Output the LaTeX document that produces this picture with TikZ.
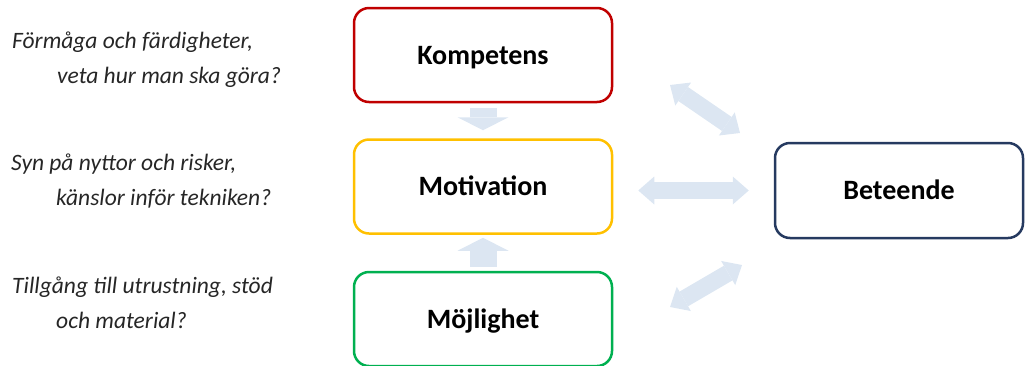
\documentclass[tikz,border=0pt]{standalone}
\usepackage{fontspec}
\setmainfont{Carlito}
\usepackage{xcolor}
\usepackage{tikz}
\definecolor{kompred}{RGB}{192,0,0}
\definecolor{motyellow}{RGB}{255,192,0}
\definecolor{mojgreen}{RGB}{0,176,80}
\definecolor{beteblue}{RGB}{38,58,96}
\definecolor{arrowblue}{RGB}{220,230,242}
\definecolor{textgray}{RGB}{38,38,38}
\usetikzlibrary{arrows.meta,positioning,calc}

\begin{document}
\begin{tikzpicture}[
    x=1pt, y=1pt,
    factor/.style={
        rectangle,
        rounded corners=15pt,
        minimum width=258pt,
        minimum height=94pt,
        text height=18pt,
        text depth=0pt,
        align=center,
        font=\fontsize{28}{32}\selectfont\bfseries,
        draw,
        line width=2.5pt
    },
    question/.style={
        anchor=base west,
        align=left,
        inner sep=0pt,
        text=textgray,
        font=\fontsize{23.5}{35}\selectfont\itshape
    },
    blockarrow/.style={-{Triangle[length=13pt,width=51pt,line width=0pt]},line width=27pt,arrowblue},
    dblarrow/.style={{Triangle[length=16pt,width=28pt,line width=0pt]}-{Triangle[length=16pt,width=28pt,line width=0pt]},line width=17pt,arrowblue}
]
    \useasboundingbox (0,0) rectangle (1025,-365);

    % Factors
    \node[factor, draw=kompred] (kompetens) at (483,-55) {Kompetens};
    \node[factor, draw=motyellow] (motivation) at (483,-186.5) {Motivation};
    \node[factor, draw=mojgreen] (mojlighet) at (483,-319) {Möjlighet};
    \node[factor, draw=beteblue, minimum width=248pt, minimum height=95pt] (beteende) at (899,-190.5) {Beteende};

    % Arrows
    \draw[blockarrow, shorten <=5pt, shorten >=8pt] (kompetens) -- (motivation);
    \draw[blockarrow, shorten <=4pt, shorten >=3pt] (mojlighet) -- (motivation);
    \draw[dblarrow, shorten <=25pt, shorten >=25pt] (beteende.west -| motivation.east) -- (beteende.west);
    \coordinate (kb1) at (670,-85);
    \coordinate (kb2) at (740,-133);
    \coordinate (mb1) at (670,-307);
    \coordinate (mb2) at (742,-265);
    \draw[dblarrow] (kb1) -- (kb2);
    \draw[dblarrow] (mb1) -- (mb2);

    % Questions
    \node[question] (kompq) at (12,-83) {Förmåga och färdigheter,\\\hspace*{45pt}veta hur man ska göra?};
    \node[question] (motq) at (11,-205) {Syn på nyttor och risker,\\\hspace*{45pt}känslor inför tekniken?};
    \node[question] (mojq) at (12,-328) {Tillgång till utrustning, stöd\\\hspace*{44pt}och material?};
\end{tikzpicture}
\end{document}
